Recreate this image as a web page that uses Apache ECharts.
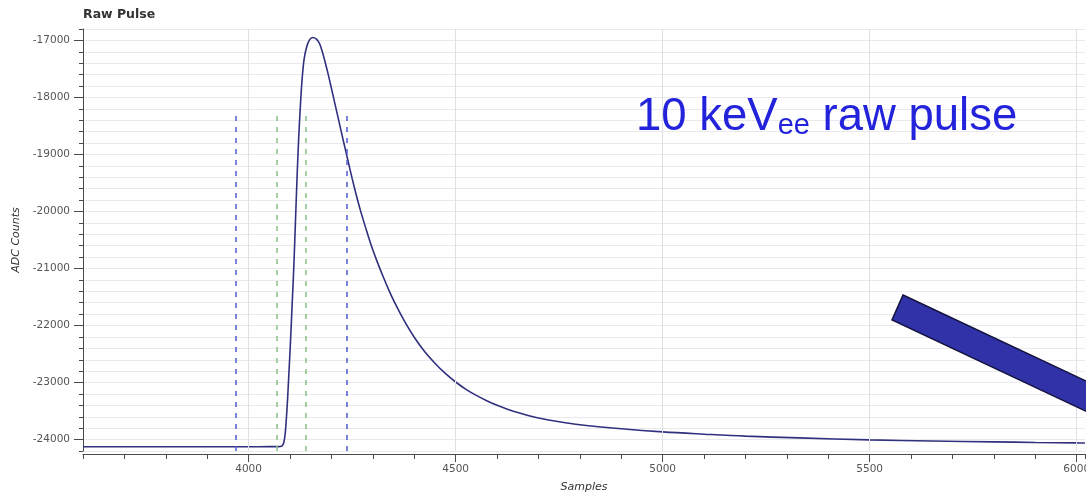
<!DOCTYPE html>
<html>
<head>
<meta charset="utf-8">
<title>Raw Pulse</title>
<script src="https://cdn.jsdelivr.net/npm/echarts@6/dist/echarts.min.js"></script>
<style>
  html, body { margin: 0; padding: 0; background: #ffffff; }
  #chart { width: 1086px; height: 499px; }
</style>
</head>
<body>
<div id="chart"></div>
<script>
// Digitised waveform: sample index and ADC reading
const samples = [
  3600, 3700, 3800, 3900, 4000, 4050, 4072, 4079, 4082, 4085,
  4088, 4091, 4094, 4097, 4101, 4105, 4109, 4113, 4117, 4121,
  4125, 4129, 4134, 4140, 4147, 4155, 4163, 4171, 4180, 4190,
  4200, 4210, 4220, 4230, 4240, 4250, 4260, 4270, 4282, 4295,
  4310, 4325, 4340, 4355, 4375, 4400, 4425, 4450, 4475, 4500,
  4525, 4550, 4575, 4600, 4625, 4650, 4675, 4700, 4750, 4800,
  4900, 5000, 5100, 5200, 5330, 5500, 5650, 5800, 5900, 6000,
  6020
];
const adcCounts = [
  -24126, -24125, -24126, -24125, -24125, -24124, -24123, -24118, -24100, -24050,
  -23920, -23650, -23300, -22880, -22300, -21650, -21000, -20200, -19400, -18700,
  -18150, -17700, -17330, -17120, -16990, -16950, -16975, -17050, -17250, -17530,
  -17840, -18160, -18480, -18800, -19110, -19420, -19710, -19980, -20270, -20570,
  -20870, -21145, -21400, -21630, -21905, -22205, -22455, -22660, -22840, -22990,
  -23118, -23225, -23318, -23398, -23466, -23526, -23578, -23622, -23688, -23740,
  -23810, -23865, -23905, -23940, -23970, -24005, -24025, -24040, -24050, -24058,
  -24060
];

// Integration window markers (outer = blue, inner = green)
const outerWindow = [3969, 4238];
const innerWindow = [4068, 4139];
const markerTop = -18300;

// Axis ranges and labelled ticks
const xRange = [3600, 6020];
const yRange = [-24200, -16800];
const xMajorTicks = [4000, 4500, 5000, 5500, 6000];
const yMajorTicks = [-24000, -23000, -22000, -21000, -20000, -19000, -18000, -17000];

const AXIS_FONT = 'DejaVu Sans';
const axisColor = '#4a4a4a';

function markerLines(xs) {
  return xs.map(x => [
    { coord: [x, yRange[0]] },
    { coord: [x, markerTop] }
  ]);
}

const chart = echarts.init(document.getElementById('chart'), null, { renderer: 'canvas' });

const option = {
  animation: false,
  backgroundColor: '#ffffff',
  title: {
    text: 'Raw Pulse',
    left: 78,
    top: 3,
    textStyle: { fontFamily: AXIS_FONT, fontSize: 12.5, fontWeight: 'bold', color: '#333333' }
  },
  grid: {
    left: 83, right: 1, top: 29, bottom: 48,
    containLabel: false,
    outerBoundsMode: 'none'
  },
  xAxis: [
    {
      type: 'value',
      position: 'bottom',
      min: xRange[0], max: xRange[1], interval: 100,
      offset: 3,
      name: 'Samples',
      nameLocation: 'middle',
      nameGap: 28,
      nameTextStyle: { fontFamily: AXIS_FONT, fontStyle: 'italic', fontSize: 11, color: '#333333' },
      axisLine: { show: true, onZero: false, lineStyle: { color: axisColor, width: 1 } },
      axisTick: { show: true, length: 5, lineStyle: { color: axisColor } },
      axisLabel: {
        fontFamily: AXIS_FONT, fontSize: 10.5, color: '#555555', margin: 10,
        formatter: v => (v % 500 === 0 ? String(v) : '')
      },
      splitLine: { show: false }
    },
    {
      type: 'value',
      position: 'bottom',
      min: xRange[0], max: xRange[1],
      offset: 3,
      axisLine: { show: false },
      axisTick: { show: true, length: 8, customValues: xMajorTicks, lineStyle: { color: axisColor } },
      axisLabel: { show: false },
      splitLine: { show: false }
    }
  ],
  yAxis: [
    {
      type: 'value',
      position: 'left',
      min: yRange[0], max: yRange[1], interval: 200,
      name: 'ADC Counts',
      nameLocation: 'middle',
      nameGap: 58,
      nameTextStyle: { fontFamily: AXIS_FONT, fontStyle: 'italic', fontSize: 11, color: '#333333' },
      axisLine: { show: true, onZero: false, lineStyle: { color: axisColor, width: 1 } },
      axisTick: { show: true, length: 4, lineStyle: { color: axisColor } },
      axisLabel: {
        fontFamily: AXIS_FONT, fontSize: 10.5, color: '#555555', margin: 13,
        formatter: v => (v % 1000 === 0 ? String(v) : '')
      },
      splitLine: { show: true, lineStyle: { color: '#e9e9ee', width: 1 } }
    },
    {
      type: 'value',
      position: 'left',
      min: yRange[0], max: yRange[1],
      axisLine: { show: false },
      axisTick: { show: true, length: 9, customValues: yMajorTicks, lineStyle: { color: axisColor } },
      axisLabel: { show: false },
      splitLine: { show: false }
    }
  ],
  series: [
    {
      // vertical grid at the labelled sample ticks
      name: 'xGrid',
      type: 'line',
      xAxisIndex: 0, yAxisIndex: 0,
      data: [[xRange[0], yRange[0]]],
      symbol: 'none',
      lineStyle: { opacity: 0 },
      silent: true,
      z: 1,
      markLine: {
        silent: true,
        symbol: 'none',
        label: { show: false },
        lineStyle: { color: '#dfe0e6', width: 1, type: 'solid' },
        data: xMajorTicks.map(v => ({ xAxis: v }))
      }
    },
    {
      name: 'outerWindow',
      type: 'line',
      xAxisIndex: 0, yAxisIndex: 0,
      data: [],
      symbol: 'none',
      silent: true,
      z: 2,
      markLine: {
        silent: true,
        symbol: 'none',
        label: { show: false },
        lineStyle: { color: '#4d5bd0', width: 1.5, type: [5, 6] },
        data: markerLines(outerWindow)
      }
    },
    {
      name: 'innerWindow',
      type: 'line',
      xAxisIndex: 0, yAxisIndex: 0,
      data: [],
      symbol: 'none',
      silent: true,
      z: 2,
      markLine: {
        silent: true,
        symbol: 'none',
        label: { show: false },
        lineStyle: { color: '#86c286', width: 1.5, type: [5, 6] },
        data: markerLines(innerWindow)
      }
    },
    {
      name: 'Raw Pulse',
      type: 'line',
      xAxisIndex: 0, yAxisIndex: 0,
      data: samples.map((s, i) => [s, adcCounts[i]]),
      showSymbol: false,
      symbol: 'none',
      smooth: 0.35,
      lineStyle: { color: '#30307f', width: 1.6 },
      z: 3
    }
  ],
  graphic: [
    {
      type: 'text',
      left: 636,
      top: 94,
      z: 10,
      style: {
        text: '{a|10 keV}{s|ee}{a| raw pulse}',
        rich: {
          a: { fontFamily: 'Liberation Sans', fontSize: 45.5, lineHeight: 45, fill: '#2323dc', verticalAlign: 'bottom' },
          s: { fontFamily: 'Liberation Sans', fontSize: 29, lineHeight: 25, fill: '#2323dc', verticalAlign: 'bottom' }
        }
      }
    },
    {
      type: 'polygon',
      z: 11,
      shape: {
        points: [[903, 295], [1100, 387.6], [1100, 417.8], [892, 320]]
      },
      style: { fill: '#3232a8', stroke: '#12123e', lineWidth: 1.5 }
    }
  ]
};

chart.setOption(option);
</script>
</body>
</html>
